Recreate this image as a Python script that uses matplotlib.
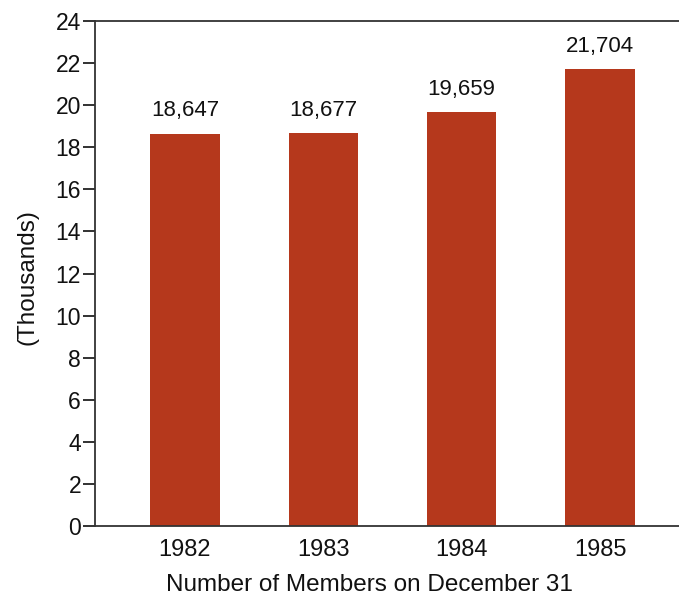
import matplotlib
matplotlib.use("Agg")
import matplotlib.pyplot as plt

years = ["1982", "1983", "1984", "1985"]
members = [18.647, 18.677, 19.659, 21.704]
value_labels = ["18,647", "18,677", "19,659", "21,704"]
yticks = list(range(0, 25, 2))

plt.rcParams['font.family'] = ['Liberation Sans', 'DejaVu Sans']

fig = plt.figure(figsize=(6.79, 6.0), dpi=100)
ax = fig.add_axes([95/679, 1 - 526/600, 1 - 95/679 + 0.01, (526 - 21)/600])

x = list(range(len(years)))
ax.bar(x, members, width=0.5, color="#B5381C", edgecolor="none")

for xi, v, lab in zip(x, members, value_labels):
    ax.annotate(lab, (xi, v), xytext=(0, 9), textcoords="offset points",
                ha="center", va="bottom", fontsize=16, color="#111111")

ax.set_xlim(-0.65, 3.62)
ax.set_ylim(0, 24)
ax.set_yticks(yticks)
ax.set_yticklabels([str(t) for t in yticks], fontsize=16.5, color="#111111")
ax.set_xticks(x)
ax.set_xticklabels(years, fontsize=17, color="#111111")
ax.tick_params(axis="x", length=0, pad=9)
ax.tick_params(axis="y", direction="out", length=9, width=1.3, pad=1, color="#222222")

for s in ["left", "bottom", "top"]:
    ax.spines[s].set_color("#333333")
    ax.spines[s].set_linewidth(1.3)
ax.spines["right"].set_visible(False)

fig.text(27/679, 1 - 277/600, "(Thousands)", rotation=90, ha="center", va="center",
         fontsize=17.5, color="#111111")
fig.text(369/679, 1 - 585/600, "Number of Members on December 31", ha="center", va="center",
         fontsize=17.5, color="#111111")

fig.savefig("out.png", dpi=100)
